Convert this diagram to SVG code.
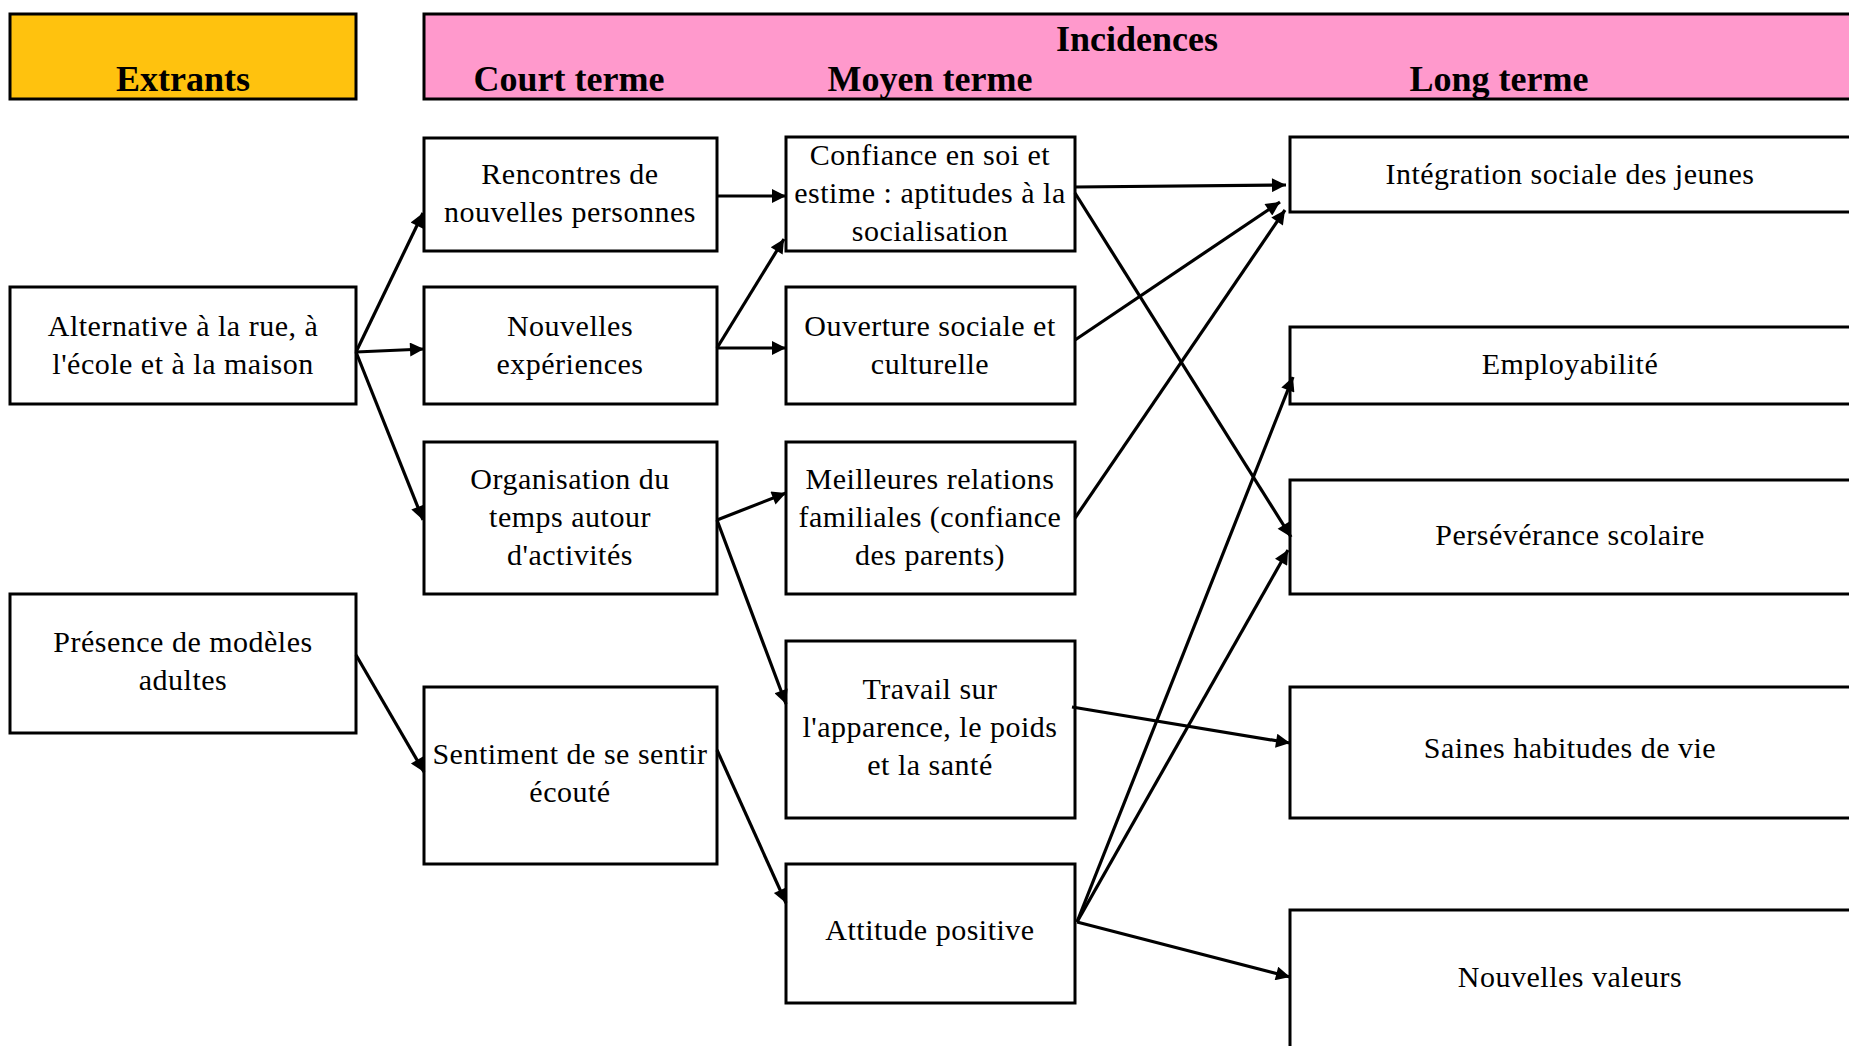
<svg xmlns="http://www.w3.org/2000/svg" width="1849" height="1046" viewBox="0 0 1849 1046">
<style>
.box{fill:#ffffff;stroke:#000000;stroke-width:3}
.t{font-family:"Liberation Serif","Times New Roman",serif;font-size:30px;letter-spacing:0.5px;fill:#000000;text-anchor:middle}
.h{font-family:"Liberation Serif","Times New Roman",serif;font-size:36px;font-weight:bold;fill:#000000;text-anchor:middle}
.c{fill:none;stroke:#000000;stroke-width:3.2;marker-end:url(#arr)}
</style>
<defs>
<marker id="arr" viewBox="0 0 10 10" refX="10" refY="5" markerWidth="19" markerHeight="14" markerUnits="userSpaceOnUse" orient="auto">
<path d="M0,0 L10,5 L0,10 z" fill="#000000"/>
</marker>
</defs>
<rect width="1849" height="1046" fill="#ffffff"/>
<g id="header-extrants">
<rect x="10" y="14" width="346" height="85" fill="#FFC20E" stroke="#000000" stroke-width="3"/>
<text class="h" x="183" y="91">Extrants</text>
</g>
<g id="header-incidences">
<rect x="424" y="14" width="1440" height="85" fill="#FF99CC" stroke="#000000" stroke-width="3"/>
<text class="h" x="1137" y="51">Incidences</text>
<text class="h" x="569" y="91">Court terme</text>
<text class="h" x="930" y="91">Moyen terme</text>
<text class="h" x="1499" y="91">Long terme</text>
</g>
<g id="n-alternative"><rect class="box" x="10" y="287" width="346" height="117"/>
<text class="t" x="183" y="336">Alternative à la rue, à</text><text class="t" x="183" y="374">l'école et à la maison</text></g>
<g id="n-presence"><rect class="box" x="10" y="594" width="346" height="139"/>
<text class="t" x="183" y="652">Présence de modèles</text><text class="t" x="183" y="690">adultes</text></g>
<g id="n-rencontres"><rect class="box" x="424" y="138" width="293" height="113"/>
<text class="t" x="570" y="184">Rencontres de</text><text class="t" x="570" y="222">nouvelles personnes</text></g>
<g id="n-nouvelles-exp"><rect class="box" x="424" y="287" width="293" height="117"/>
<text class="t" x="570" y="336">Nouvelles</text><text class="t" x="570" y="374">expériences</text></g>
<g id="n-organisation"><rect class="box" x="424" y="442" width="293" height="152"/>
<text class="t" x="570" y="489">Organisation du</text><text class="t" x="570" y="527">temps autour</text><text class="t" x="570" y="565">d'activités</text></g>
<g id="n-sentiment"><rect class="box" x="424" y="687" width="293" height="177"/>
<text class="t" x="570" y="764">Sentiment de se sentir</text><text class="t" x="570" y="802">écouté</text></g>
<g id="n-confiance"><rect class="box" x="786" y="137" width="289" height="114"/>
<text class="t" x="930" y="165">Confiance en soi et</text><text class="t" x="930" y="203">estime : aptitudes à la</text><text class="t" x="930" y="241">socialisation</text></g>
<g id="n-ouverture"><rect class="box" x="786" y="287" width="289" height="117"/>
<text class="t" x="930" y="336">Ouverture sociale et</text><text class="t" x="930" y="374">culturelle</text></g>
<g id="n-meilleures"><rect class="box" x="786" y="442" width="289" height="152"/>
<text class="t" x="930" y="489">Meilleures relations</text><text class="t" x="930" y="527">familiales (confiance</text><text class="t" x="930" y="565">des parents)</text></g>
<g id="n-travail"><rect class="box" x="786" y="641" width="289" height="177"/>
<text class="t" x="930" y="699">Travail sur</text><text class="t" x="930" y="737">l'apparence, le poids</text><text class="t" x="930" y="775">et la santé</text></g>
<g id="n-attitude"><rect class="box" x="786" y="864" width="289" height="139"/>
<text class="t" x="930" y="940">Attitude positive</text></g>
<g id="n-integration"><rect class="box" x="1290" y="137" width="580" height="75"/>
<text class="t" x="1570" y="184">Intégration sociale des jeunes</text></g>
<g id="n-employabilite"><rect class="box" x="1290" y="327" width="580" height="77"/>
<text class="t" x="1570" y="374">Employabilité</text></g>
<g id="n-perseverance"><rect class="box" x="1290" y="480" width="580" height="114"/>
<text class="t" x="1570" y="545">Persévérance scolaire</text></g>
<g id="n-saines"><rect class="box" x="1290" y="687" width="580" height="131"/>
<text class="t" x="1570" y="758">Saines habitudes de vie</text></g>
<g id="n-valeurs"><rect class="box" x="1290" y="910" width="580" height="160"/>
<text class="t" x="1570" y="987">Nouvelles valeurs</text></g>
<g id="connectors">
<line class="c" x1="356" y1="352" x2="423" y2="213"/>
<line class="c" x1="356" y1="352" x2="424" y2="349"/>
<line class="c" x1="356" y1="352" x2="423" y2="520"/>
<line class="c" x1="356" y1="655" x2="424" y2="772"/>
<line class="c" x1="717" y1="196" x2="786" y2="196"/>
<line class="c" x1="717" y1="348" x2="784" y2="239"/>
<line class="c" x1="717" y1="348" x2="786" y2="348"/>
<line class="c" x1="717" y1="520" x2="786" y2="493"/>
<line class="c" x1="717" y1="520" x2="786" y2="704"/>
<line class="c" x1="717" y1="750" x2="786" y2="903"/>
<line class="c" x1="1075" y1="187" x2="1286" y2="185"/>
<line class="c" x1="1075" y1="193" x2="1291" y2="537"/>
<line class="c" x1="1075" y1="340" x2="1280" y2="202"/>
<line class="c" x1="1075" y1="518" x2="1285" y2="210"/>
<line class="c" x1="1072" y1="707" x2="1290" y2="743"/>
<line class="c" x1="1077" y1="922" x2="1293" y2="377"/>
<line class="c" x1="1077" y1="922" x2="1288" y2="550"/>
<line class="c" x1="1077" y1="922" x2="1290" y2="977"/>
</g>
</svg>
